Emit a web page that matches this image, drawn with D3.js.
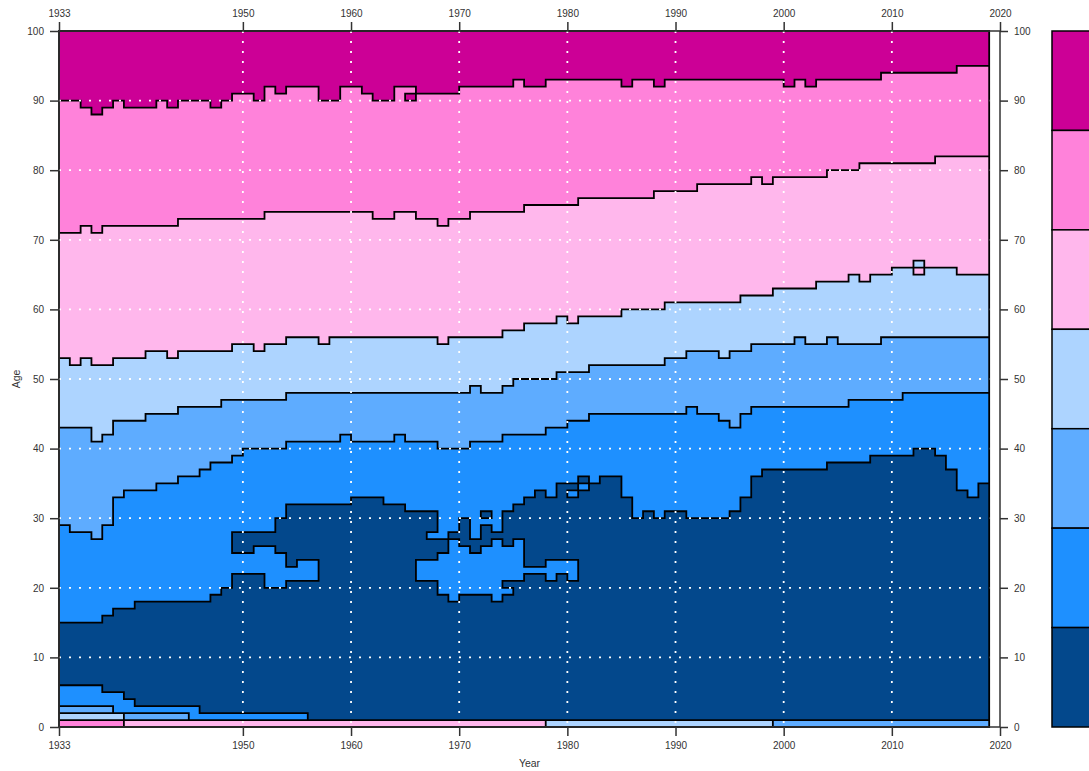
<!DOCTYPE html>
<html>
<head>
<meta charset="utf-8">
<title>Age by year</title>
<script src="https://d3js.org/d3.v7.min.js"></script>
<style>
  body { margin: 0; background: #fff; }
  text { font-family: "Liberation Sans", Arial, sans-serif; }
</style>
</head>
<body>
<script>

// level colours, from level 0 (bottom of legend) to level 6 (top)
var levelColors = ["#03488C", "#1E90FF", "#5EACFF", "#ADD4FF", "#FFB7EC", "#FF82DA", "#CC0096"];

var firstYear = 1933, lastYear = 2019;   // one cell per year, 1933 .. 2018
var xTicks = [1933, 1950, 1960, 1970, 1980, 1990, 2000, 2010, 2020];
var yTicks = [0, 10, 20, 30, 40, 50, 60, 70, 80, 90, 100];

// age where each level ends, one value per year (1933 first)
var lowTop = [6,6,6,6,5,5,4,3,3,3, 3,3,3,2,2,2,2,2,2,2, 2,2,2,1,1,1,1,1,1,1,
              1,1,1,1,1,1,1,1,1,1, 1,1,1,1,1,1,1,1,1,1, 1,1,1,1,1,1,1,1,1,1,
              1,1,1,1,1,1,1,1,1,1, 1,1,1,1,1,1,1,1,1,1, 1,1,1,1,1,1];
var darkTop = [15,15,15,15,16,17,17,18,18,18, 18,18,18,18,19,20,28,28,28,28,
               30,32,32,32,32,32,32,33,33,33, 32,32,31,31,31,27,28,30,27,29,
               28,31,32,33,34,33,35,35,36,35, 36,36,33,30,31,30,31,31,30,30,
               30,30,31,33,36,37,37,37,37,37, 37,38,38,38,38,39,39,39,39,40,
               40,39,37,34,33,35];
var blueTop = [29,28,28,27,29,33,34,34,34,35, 35,36,36,37,38,38,39,40,40,40,
               40,41,41,41,41,41,42,41,41,41, 41,42,41,41,41,40,40,40,41,41,
               41,42,42,42,42,43,43,44,44,45, 45,45,45,45,45,45,45,45,46,45,
               45,44,43,45,46,46,46,46,46,46, 46,46,46,47,47,47,47,47,48,48,
               48,48,48,48,48,48];
var midTop = [43,43,43,41,42,44,44,44,45,45, 45,46,46,46,46,47,47,47,47,47,
              47,48,48,48,48,48,48,48,48,48, 48,48,48,48,48,48,48,48,49,48,
              48,49,50,50,50,50,51,51,51,52, 52,52,52,52,52,52,53,53,54,54,
              54,53,54,54,55,55,55,55,56,55, 55,56,55,55,55,55,56,56,56,56,
              56,56,56,56,56,56];
var lightTop = [53,52,53,52,52,53,53,53,54,54, 53,54,54,54,54,54,55,55,54,55,
                55,56,56,56,55,56,56,56,56,56, 56,56,56,56,56,55,56,56,56,56,
                56,57,57,58,58,58,59,58,59,59, 59,59,60,60,60,60,61,61,61,61,
                61,61,61,62,62,62,63,63,63,63, 64,64,64,65,64,65,65,66,66,66,
                66,66,66,65,65,65];
var paleTop = [71,71,72,71,72,72,72,72,72,72, 72,73,73,73,73,73,73,73,73,74,
               74,74,74,74,74,74,74,74,74,73, 73,74,74,73,73,72,73,73,74,74,
               74,74,74,75,75,75,75,75,76,76, 76,76,76,76,76,77,77,77,77,78,
               78,78,78,78,79,78,79,79,79,79, 79,80,80,80,81,81,81,81,81,81,
               81,82,82,82,82,82];
var pinkTop = [90,90,89,88,89,90,89,89,89,90, 89,90,90,90,89,90,91,91,90,92,
               91,92,92,92,90,90,92,92,91,90, 90,92,92,91,91,91,91,92,92,92,
               92,92,93,92,92,93,93,93,93,93, 93,93,92,93,93,92,93,93,93,93,
               93,93,93,93,93,93,93,92,93,92, 93,93,93,93,93,93,94,94,94,94,
               94,94,94,95,95,95];

// blue pockets inside the dark band: [year, from age, to age)
var bays = [[1949,22,25],[1950,22,25],[1951,22,26],[1952,20,26],[1953,20,25],
            [1954,21,23],[1955,21,24],[1956,21,24],
            [1966,21,24],[1967,21,24],[1968,19,25],[1969,18,27],[1970,19,26],
            [1971,19,25],[1972,19,26],[1973,18,27],[1974,19,26],[1975,21,27],
            [1976,22,23],[1977,22,23],[1978,21,24],[1979,22,24],[1980,21,24]];

// rows near age 0: [from year, to year, age, level]
var stripCells = [[1933,1939,0,5],[1939,1978,0,4],[1978,1999,0,3],[1999,2019,0,2],
                  [1933,1939,1,3],[1939,1945,1,2],[1933,1938,2,2]];

// single odd cells: [year, age, level]
var oddCells = [[1965,90,6],[2012,65,4],[2012,66,3],[1967,27,1],
                [1972,30,0],[1974,20,0],[1980,33,1],[1981,34,1]];

/************ layout ************/
var width = 1089, height = 771;
var svg = d3.select("body").append("svg")
    .attr("width", width).attr("height", height);

var x = d3.scaleLinear().domain([1933, 2020]).range([59, 1000]);
var y = d3.scaleLinear().domain([0, 100]).range([727, 31]);

/************ build grid ************/
var years = d3.range(firstYear, lastYear);
var grid = years.map(function(yr, i){
  var col = [];
  for (var a = 0; a < 100; a++) {
    var lv;
    if (a < lowTop[i]) lv = 1;
    else if (a < darkTop[i]) lv = 0;
    else if (a < blueTop[i]) lv = 1;
    else if (a < midTop[i]) lv = 2;
    else if (a < lightTop[i]) lv = 3;
    else if (a < paleTop[i]) lv = 4;
    else if (a < pinkTop[i]) lv = 5;
    else lv = 6;
    col.push(lv);
  }
  return col;
});
bays.forEach(function(b){
  for (var a = b[1]; a < b[2]; a++) grid[b[0] - firstYear][a] = 1;
});
stripCells.forEach(function(s){
  for (var yr = s[0]; yr < s[1]; yr++) grid[yr - firstYear][s[2]] = s[3];
});
oddCells.forEach(function(c){ grid[c[0] - firstYear][c[1]] = c[2]; });

// merge vertical runs so each column is a few rects
var runs = [];
grid.forEach(function(col, i){
  var start = 0;
  for (var a = 1; a <= 100; a++) {
    if (a == 100 || col[a] != col[start]) {
      runs.push({year: years[i], from: start, to: a, lv: col[start]});
      start = a;
    }
  }
});

svg.append("g").selectAll("rect")
  .data(runs).join("rect")
    .attr("x", d => x(d.year))
    .attr("width", d => x(d.year + 1) - x(d.year))
    .attr("y", d => y(d.to))
    .attr("height", d => y(d.from) - y(d.to))
    .attr("fill", d => levelColors[d.lv])
    .attr("shape-rendering", "crispEdges");

/************ level outlines ************/
var p = d3.path();
grid.forEach(function(col, i){
  var yr = years[i];
  col.forEach(function(lv, a){
    var right = i < grid.length - 1 ? grid[i + 1][a] : -1;
    if (right !== lv) { p.moveTo(x(yr + 1), y(a)); p.lineTo(x(yr + 1), y(a + 1)); }
    var up = a < 99 ? col[a + 1] : -1;
    if (up !== lv) { p.moveTo(x(yr), y(a + 1)); p.lineTo(x(yr + 1), y(a + 1)); }
    if (i == 0) { p.moveTo(x(yr), y(a)); p.lineTo(x(yr), y(a + 1)); }
    if (a == 0) { p.moveTo(x(yr), y(0)); p.lineTo(x(yr + 1), y(0)); }
  });
});
svg.append("path")
  .attr("d", p.toString())
  .attr("fill", "none")
  .attr("stroke", "#000")
  .attr("stroke-width", 1.8)
  .attr("stroke-linecap", "square");

/************ dotted grid ************/
var gridG = svg.append("g")
  .attr("stroke", "#fff").attr("stroke-width", 1.8)
  .attr("stroke-dasharray", "2,8");
gridG.selectAll("line.v")
  .data(xTicks.filter(d => d > 1933 && d < 2019)).join("line")
    .attr("class", "v")
    .attr("x1", d => x(d)).attr("x2", d => x(d))
    .attr("y1", y(100)).attr("y2", y(0));
gridG.selectAll("line.h")
  .data(yTicks.filter(d => d > 0 && d < 100)).join("line")
    .attr("class", "h")
    .attr("x1", x(1933)).attr("x2", x(2019))
    .attr("y1", d => y(d)).attr("y2", d => y(d));

/************ frame and axes ************/
svg.append("rect")
  .attr("x", x(1933)).attr("y", y(100))
  .attr("width", x(2020) - x(1933)).attr("height", y(0) - y(100))
  .attr("fill", "none").attr("stroke", "#333").attr("stroke-width", 1.5);

function styleAxis(g){
  g.select(".domain").remove();
  g.selectAll(".tick line").attr("stroke", "#333").attr("stroke-width", 1.5);
  g.selectAll(".tick text").attr("fill", "#333").style("font-size", "10px");
}
var yearFmt = d3.format("d");
svg.append("g").attr("transform", "translate(0," + y(0) + ")")
  .call(d3.axisBottom(x).tickValues(xTicks).tickFormat(yearFmt).tickSize(9).tickPadding(6))
  .call(styleAxis);
svg.append("g").attr("transform", "translate(0," + y(100) + ")")
  .call(d3.axisTop(x).tickValues(xTicks).tickFormat(yearFmt).tickSize(9).tickPadding(5))
  .call(styleAxis);
svg.append("g").attr("transform", "translate(" + x(1933) + ",0)")
  .call(d3.axisLeft(y).tickValues(yTicks).tickSize(9).tickPadding(6))
  .call(styleAxis);
svg.append("g").attr("transform", "translate(" + x(2020) + ",0)")
  .call(d3.axisRight(y).tickValues(yTicks).tickSize(8).tickPadding(6))
  .call(styleAxis);

svg.append("text")
  .attr("x", (x(1933) + x(2020)) / 2).attr("y", 767)
  .attr("text-anchor", "middle").attr("fill", "#333")
  .style("font-size", "10.5px").text("Year");
svg.append("text")
  .attr("transform", "translate(20," + (y(0) + y(100)) / 2 + ") rotate(-90)")
  .attr("text-anchor", "middle").attr("fill", "#333")
  .style("font-size", "10.5px").text("Age");

/************ colour key ************/
var keyY = d3.scaleBand().domain([6, 5, 4, 3, 2, 1, 0]).range([y(100), y(0)]);
svg.append("g").selectAll("rect")
  .data(keyY.domain()).join("rect")
    .attr("x", 1052).attr("width", 60)
    .attr("y", d => keyY(d)).attr("height", keyY.bandwidth())
    .attr("fill", d => levelColors[d])
    .attr("stroke", "#000").attr("stroke-width", 1.5);

</script>
</body>
</html>
